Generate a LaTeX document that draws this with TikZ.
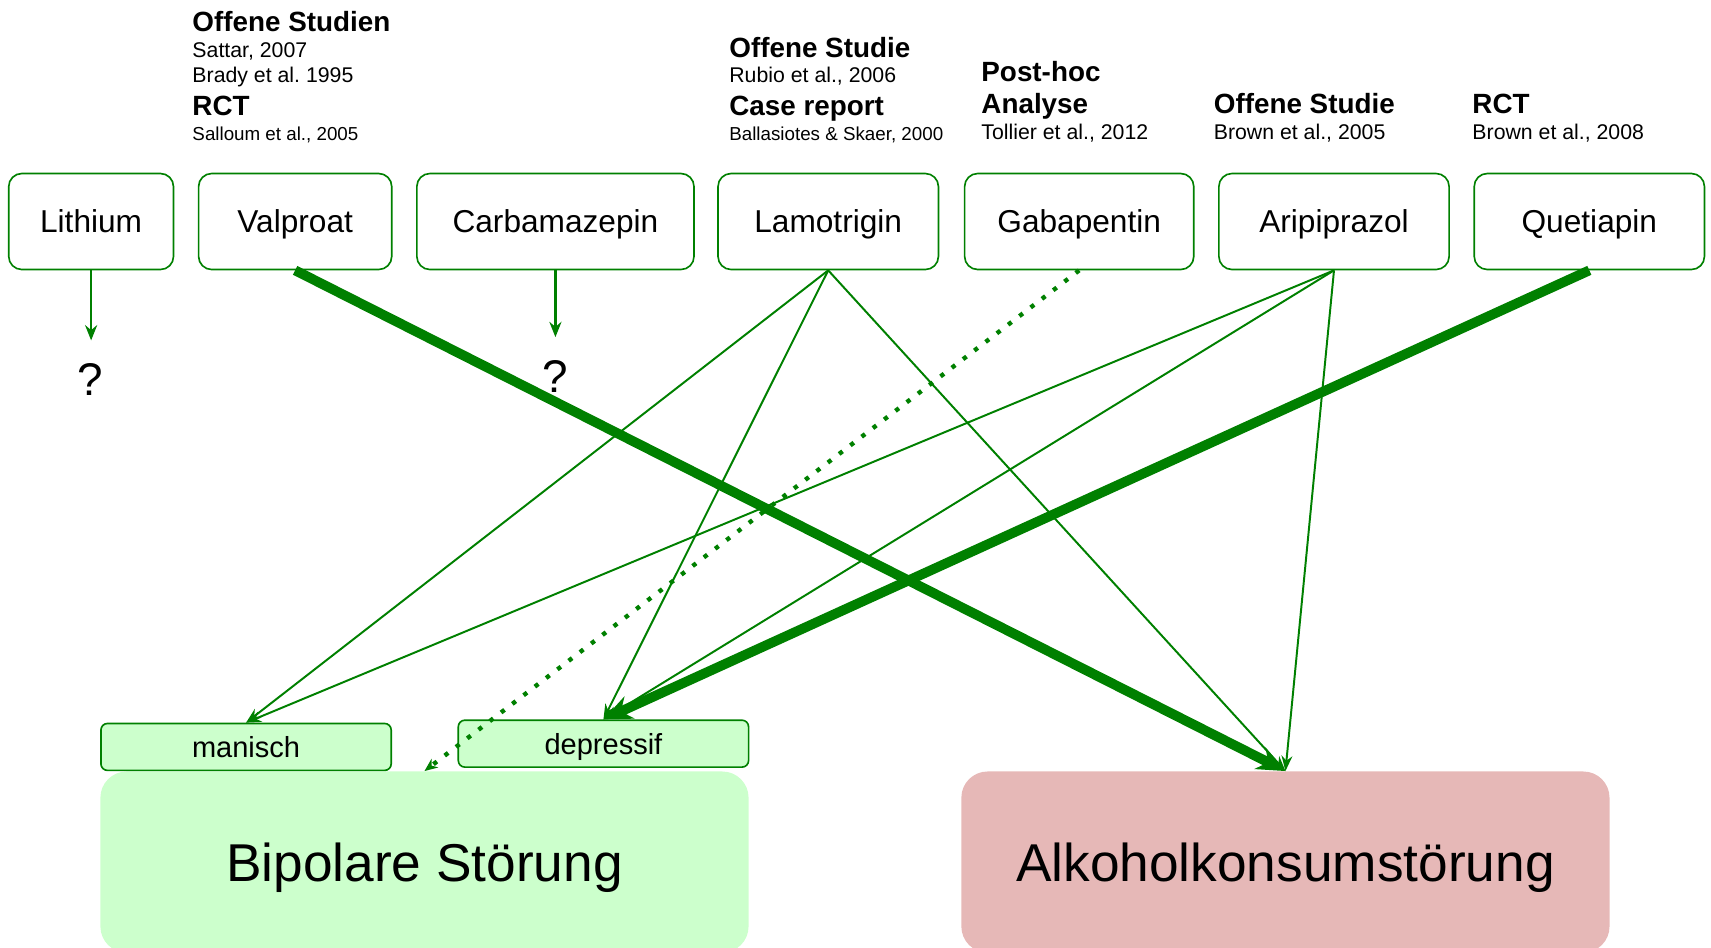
\documentclass[tikz,border=0pt]{standalone}
\usepackage{fontspec}
\setmainfont{Liberation Sans}
\usetikzlibrary{arrows.meta}
\definecolor{dgreen}{HTML}{008000}
\definecolor{lgreen}{HTML}{CCFFCC}
\definecolor{lpink}{HTML}{E6B8B7}
\frenchspacing
\begin{document}
\begin{tikzpicture}[x=0.5pt,y=-0.5pt,
 drug/.style={draw=dgreen,line width=0.75pt,rounded corners=6pt,fill=white,minimum height=44pt,inner sep=0pt,font=\fontsize{14.5pt}{17pt}\selectfont,text height=13.4pt,text depth=3pt},
 sub/.style={draw=dgreen,line width=0.75pt,rounded corners=3pt,fill=lgreen,minimum width=133pt,minimum height=21.5pt,inner sep=0pt,font=\fontsize{13.3pt}{16pt}\selectfont,text height=12.5pt,text depth=3pt},
 dis/.style={rounded corners=12pt,minimum width=297pt,minimum height=83pt,inner sep=0pt,font=\fontsize{24.4pt}{29pt}\selectfont,text height=22.5pt,text depth=5pt},
 hb/.style={anchor=base west,inner sep=0pt,font=\fontsize{12.75pt}{15pt}\selectfont\bfseries},
 hr/.style={anchor=base west,inner sep=0pt,font=\fontsize{9.75pt}{12pt}\selectfont},
 hs/.style={anchor=base west,inner sep=0pt,font=\fontsize{8.6pt}{10pt}\selectfont},
 qmark/.style={inner sep=0pt,font=\fontsize{21pt}{25pt}\selectfont},
 lnk/.style={draw=dgreen,line width=0.9pt,-{Stealth[length=7pt,width=5pt]}},
 qlnk/.style={draw=dgreen,line width=1.2pt,-{Stealth[length=7pt,width=5.5pt]}},
 biglnk/.style={draw=dgreen,line width=4.5pt,-{Stealth[length=13pt,width=11pt]}},
 dotlnk/.style={draw=dgreen,line width=2pt,dash pattern=on 2pt off 4.5pt,-{Stealth[length=6pt,width=5pt]}}
]
\useasboundingbox (0,0) rectangle (1568,868);

% disorder boxes
\node[dis,fill=lgreen] (bip) at (389,790) {Bipolare Störung};
\node[dis,fill=lpink] (alk) at (1178,790) {Alkoholkonsumstörung};
\node[sub] (man) at (225.5,684.5) {manisch};
\node[sub] (dep) at (553,681.5) {depressif};

% drug boxes
\node[drug,minimum width=75.5pt] (li) at (83.5,203) {Lithium};
\node[drug,minimum width=88.5pt] (va) at (270.5,203) {Valproat};
\node[drug,minimum width=127pt] (ca) at (509,203) {Carbamazepin};
\node[drug,minimum width=101pt] (la) at (759,203) {Lamotrigin};
\node[drug,minimum width=105pt] (ga) at (989,203) {Gabapentin};
\node[drug,minimum width=105.5pt] (ar) at (1222.5,203) {Aripiprazol};
\node[drug,minimum width=105.5pt] (qu) at (1456.5,203) {Quetiapin};

% headers
\node[hb] (h1) at (176,29) {Offene Studien};
\node[hr] (h2) at (176,53) {Sattar, 2007};
\node[hr] (h3) at (176,76) {Brady et al. 1995};
\node[hb] (h4) at (176,106) {RCT};
\node[hs] (h5) at (176,129) {Salloum et al., 2005};

\node[hb] (l1) at (668,53) {Offene Studie};
\node[hr] (l2) at (668,76) {Rubio et al., 2006};
\node[hb] (l3) at (668,106) {Case report};
\node[hs] (l4) at (668,129) {Ballasiotes \& Skaer, 2000};

\node[hb] (g1) at (899,75) {Post-hoc};
\node[hb] (g2) at (899,104) {Analyse};
\node[hr] (g3) at (899,128) {Tollier et al., 2012};

\node[hb] (a1) at (1112,104) {Offene Studie};
\node[hr] (a2) at (1112,128) {Brown et al., 2005};

\node[hb] (r1) at (1349,104) {RCT};
\node[hr] (r2) at (1349,128) {Brown et al., 2008};

% question marks
\node[qmark] (q1) at (83,348) {?};
\node[qmark] (q2) at (509,345) {?};
\coordinate (q1t) at (83.5,312);
\coordinate (q2t) at (509,309);
\draw[qlnk] (li.south) -- (q1t);
\draw[qlnk] (ca.south) -- (q2t);

% connectors
\draw[lnk] (la.south) -- (man.north);
\draw[lnk] (la.south) -- (dep.north);
\draw[lnk] (la.south) -- (alk.north);
\draw[lnk] (ar.south) -- (man.north);
\draw[lnk] (ar.south) -- (dep.north);
\draw[lnk] (ar.south) -- (alk.north);
\draw[dotlnk] (ga.south) -- (bip.north);
\draw[biglnk] (va.south) -- (alk.north);
\draw[biglnk] (qu.south) -- (dep.north);
\end{tikzpicture}
\end{document}
